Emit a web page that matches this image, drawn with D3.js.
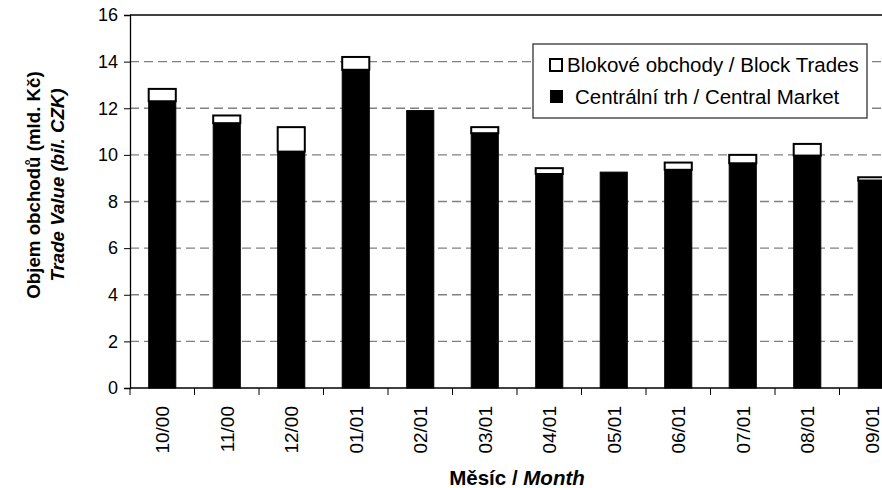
<!DOCTYPE html>
<html>
<head>
<meta charset="utf-8">
<script src="https://cdn.jsdelivr.net/npm/d3@7"></script>
<style>
  body { margin: 0; background: #fff; }
  svg { display: block; font-family: Arial, "Liberation Sans", sans-serif; }
</style>
</head>
<body>
<svg id="svg" width="882" height="488"></svg>
<script>
// data (bil. CZK)
var months = ['10/00', '11/00', '12/00', '01/01', '02/01', '03/01', '04/01', '05/01', '06/01', '07/01', '08/01', '09/01'];
var central = [12.3, 11.36, 10.14, 13.65, 11.9, 10.93, 9.18, 9.26, 9.36, 9.64, 9.97, 8.9];
var block = [0.53, 0.33, 1.05, 0.55, 0.0, 0.26, 0.25, 0.0, 0.31, 0.36, 0.5, 0.14];
var yTicks = [0, 2, 4, 6, 8, 10, 12, 14, 16];

var svg = d3.select('svg');

var plot = { left: 130, right: 904, top: 15, bottom: 388 };

var x = d3.scaleBand().domain(months).range([plot.left, plot.right])
  .paddingInner(0.58).paddingOuter(0.29);
var y = d3.scaleLinear().domain([0, 16]).range([plot.bottom, plot.top]);

// dashed grid
svg.append('g').selectAll('line').data(yTicks.filter(function(d) { return d > 0 && d < 16; }))
  .enter().append('line')
  .attr('x1', plot.left).attr('x2', plot.right)
  .attr('y1', function(d) { return y(d); }).attr('y2', function(d) { return y(d); })
  .attr('stroke', '#808080').attr('stroke-width', 1.3).attr('stroke-dasharray', '9,5');

// top border of plot area
svg.append('line').attr('x1', plot.left).attr('x2', plot.right).attr('y1', y(16)).attr('y2', y(16))
  .attr('stroke', '#000').attr('stroke-width', 1.3);

// bars
var g = svg.append('g');
g.selectAll('rect.central').data(months).enter().append('rect')
  .attr('class', 'central')
  .attr('x', function(d) { return x(d); })
  .attr('width', x.bandwidth())
  .attr('y', function(d, i) { return y(central[i]); })
  .attr('height', function(d, i) { return y(0) - y(central[i]); })
  .attr('fill', '#000').attr('stroke', '#000').attr('stroke-width', 1);

g.selectAll('rect.block').data(months.filter(function(d, i) { return block[i] > 0; }))
  .enter().append('rect')
  .attr('class', 'block')
  .attr('x', function(d) { return x(d); })
  .attr('width', x.bandwidth())
  .attr('y', function(d) { var i = months.indexOf(d); return y(central[i] + block[i]); })
  .attr('height', function(d) { var i = months.indexOf(d); return y(central[i]) - y(central[i] + block[i]); })
  .attr('fill', '#fff').attr('stroke', '#000').attr('stroke-width', 2);

// y axis
var yAxis = d3.axisLeft(y).tickValues(yTicks).tickSize(6).tickPadding(6);
var ya = svg.append('g').attr('transform', 'translate(' + plot.left + ',0)').call(yAxis);
ya.select('.domain').attr('stroke', '#000').attr('stroke-width', 1.3);
ya.selectAll('.tick line').attr('stroke', '#000');
ya.selectAll('text').attr('font-size', 18).attr('fill', '#000').attr('font-family', 'Arial, "Liberation Sans", sans-serif');

// x axis: ticks at category boundaries
svg.append('line').attr('x1', plot.left).attr('x2', plot.right).attr('y1', plot.bottom).attr('y2', plot.bottom)
  .attr('stroke', '#000').attr('stroke-width', 1.3);
var bounds = months.map(function(d, i) { return plot.left + i * x.step(); });
svg.append('g').selectAll('line').data(bounds).enter().append('line')
  .attr('x1', function(d) { return d; }).attr('x2', function(d) { return d; })
  .attr('y1', plot.bottom).attr('y2', plot.bottom + 7)
  .attr('stroke', '#000').attr('stroke-width', 1);

svg.append('g').selectAll('text').data(months).enter().append('text')
  .attr('transform', function(d) {
    return 'translate(' + (x(d) + x.bandwidth() / 2 + 7) + ',' + 406 + ') rotate(-90)';
  })
  .attr('text-anchor', 'end')
  .attr('font-size', 19)
  .text(function(d) { return d; });

// axis titles
var xt = svg.append('text').attr('x', (plot.left + plot.right) / 2).attr('y', 485)
  .attr('text-anchor', 'middle').attr('font-size', 20.5).attr('font-weight', 'bold');
xt.append('tspan').text('Měsíc / ');
xt.append('tspan').attr('font-style', 'italic').text('Month');

var yt = svg.append('g').attr('transform', 'translate(0,185) rotate(-90)');
yt.append('text').attr('x', 0).attr('y', 40).attr('text-anchor', 'middle')
  .attr('font-size', 18.7).attr('font-weight', 'bold').text('Objem obchodů (mld. Kč)');
yt.append('text').attr('x', 0).attr('y', 64).attr('text-anchor', 'middle')
  .attr('font-size', 18.7).attr('font-weight', 'bold').attr('font-style', 'italic')
  .text('Trade Value (bil. CZK)');

// legend
var lg = svg.append('g');
lg.append('rect').attr('x', 533).attr('y', 44).attr('width', 334).attr('height', 74)
  .attr('fill', '#fff').attr('stroke', '#333').attr('stroke-width', 1.3);
lg.append('rect').attr('x', 550).attr('y', 59).attr('width', 12).attr('height', 12)
  .attr('fill', '#fff').attr('stroke', '#000').attr('stroke-width', 2);
lg.append('text').attr('x', 567).attr('y', 72).attr('font-size', 20.5)
  .text('Blokové obchody / Block Trades');
lg.append('rect').attr('x', 550).attr('y', 90).attr('width', 13).attr('height', 13)
  .attr('fill', '#000');
lg.append('text').attr('x', 575).attr('y', 104).attr('font-size', 20.5)
  .text('Centrální trh / Central Market');
</script>
</body>
</html>
